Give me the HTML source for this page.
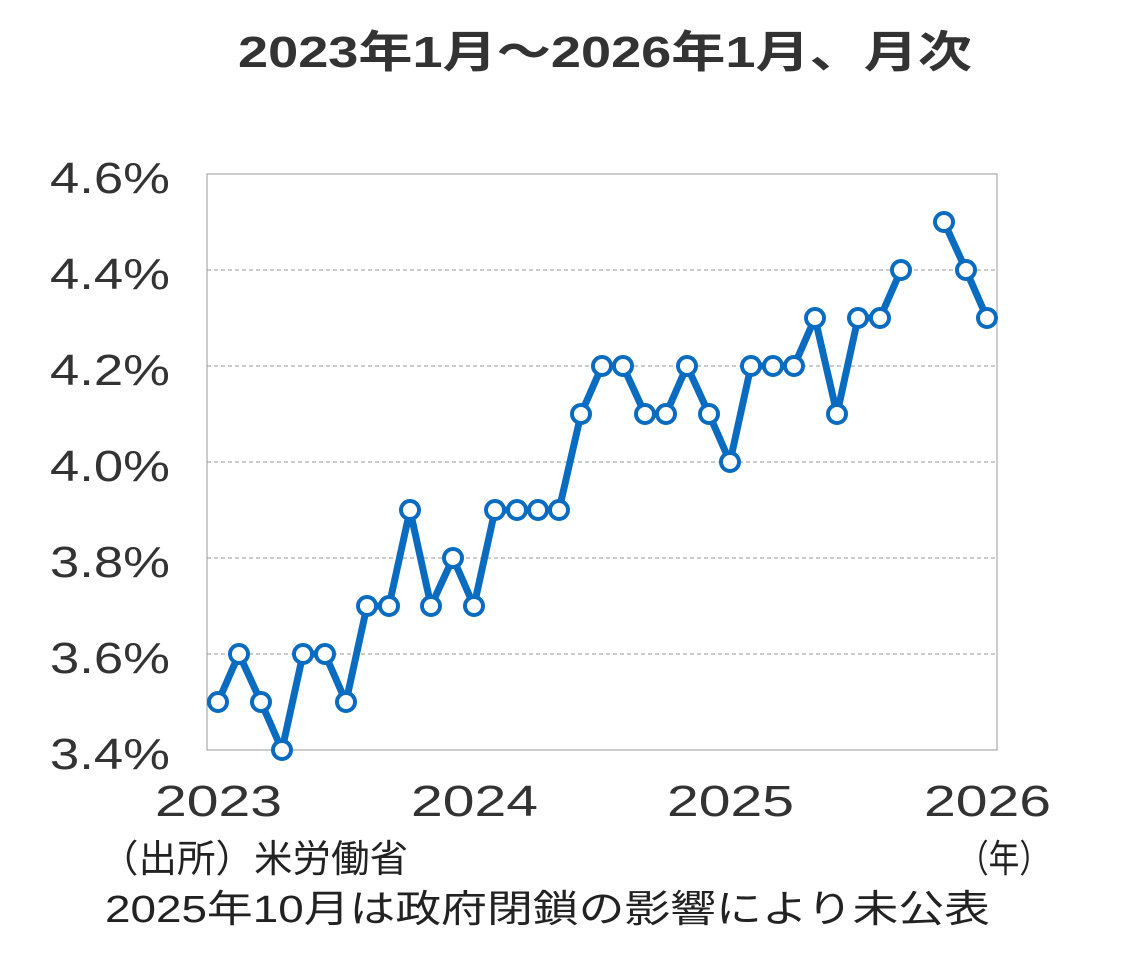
<!DOCTYPE html>
<html><head><meta charset="utf-8"><style>
html,body{margin:0;padding:0;background:#fff;}
svg{display:block;font-family:"Liberation Sans","Noto Sans CJK JP",sans-serif;}
</style></head><body>
<svg width="1142" height="966" viewBox="0 0 1142 966" xmlns="http://www.w3.org/2000/svg">
<text x="238" y="67" font-size="44" font-weight="bold" fill="#333" textLength="734" lengthAdjust="spacingAndGlyphs">2023年1月～2026年1月、月次</text>
<g stroke="#999" stroke-width="1" stroke-dasharray="4,3">
<line x1="207" y1="270" x2="997" y2="270"/><line x1="207" y1="366" x2="997" y2="366"/>
<line x1="207" y1="462" x2="997" y2="462"/><line x1="207" y1="558" x2="997" y2="558"/>
<line x1="207" y1="654" x2="997" y2="654"/>
</g>
<rect x="207" y="174" width="790" height="576" fill="none" stroke="#999" stroke-width="1"/>
<g font-size="44" fill="#333">
<text x="50" y="193" textLength="120" lengthAdjust="spacingAndGlyphs">4.6%</text>
<text x="50" y="289" textLength="120" lengthAdjust="spacingAndGlyphs">4.4%</text>
<text x="50" y="385" textLength="120" lengthAdjust="spacingAndGlyphs">4.2%</text>
<text x="50" y="481" textLength="120" lengthAdjust="spacingAndGlyphs">4.0%</text>
<text x="50" y="577" textLength="120" lengthAdjust="spacingAndGlyphs">3.8%</text>
<text x="50" y="673" textLength="120" lengthAdjust="spacingAndGlyphs">3.6%</text>
<text x="50" y="769" textLength="120" lengthAdjust="spacingAndGlyphs">3.4%</text>
</g>
<g font-size="44" fill="#333">
<text x="155" y="816" textLength="127" lengthAdjust="spacingAndGlyphs">2023</text>
<text x="411" y="816" textLength="127" lengthAdjust="spacingAndGlyphs">2024</text>
<text x="667" y="816" textLength="127" lengthAdjust="spacingAndGlyphs">2025</text>
<text x="924" y="816" textLength="127" lengthAdjust="spacingAndGlyphs">2026</text>
</g>
<text x="100" y="872" font-size="38" fill="#222" textLength="308" lengthAdjust="spacingAndGlyphs">（出所）米労働省</text>
<text x="958" y="872" font-size="38" fill="#222" textLength="92" lengthAdjust="spacingAndGlyphs">（年）</text>
<text x="105" y="922" font-size="38" fill="#222" textLength="885" lengthAdjust="spacingAndGlyphs">2025年10月は政府閉鎖の影響により未公表</text>
<g fill="none" stroke="#0a6cc0" stroke-width="7" stroke-linejoin="round">
<polyline points="218,702 239,654 261,702 282,750 303,654 325,654 346,702 367,606 389,606 410,510 431,606 453,558 474,606 495,510 517,510 538,510 559,510 581,414 602,366 623,366 645,414 666,414 687,366 709,414 730,462 751,366 773,366 794,366 815,318 837,414 858,318 880,318 901,270"/>
<polyline points="944,222 966,270 987,318"/>
</g>
<g fill="#fff" stroke="#0a6cc0" stroke-width="4">
<circle cx="218" cy="702" r="9"/><circle cx="239" cy="654" r="9"/><circle cx="261" cy="702" r="9"/><circle cx="282" cy="750" r="9"/>
<circle cx="303" cy="654" r="9"/><circle cx="325" cy="654" r="9"/><circle cx="346" cy="702" r="9"/><circle cx="367" cy="606" r="9"/>
<circle cx="389" cy="606" r="9"/><circle cx="410" cy="510" r="9"/><circle cx="431" cy="606" r="9"/><circle cx="453" cy="558" r="9"/>
<circle cx="474" cy="606" r="9"/><circle cx="495" cy="510" r="9"/><circle cx="517" cy="510" r="9"/><circle cx="538" cy="510" r="9"/>
<circle cx="559" cy="510" r="9"/><circle cx="581" cy="414" r="9"/><circle cx="602" cy="366" r="9"/><circle cx="623" cy="366" r="9"/>
<circle cx="645" cy="414" r="9"/><circle cx="666" cy="414" r="9"/><circle cx="687" cy="366" r="9"/><circle cx="709" cy="414" r="9"/>
<circle cx="730" cy="462" r="9"/><circle cx="751" cy="366" r="9"/><circle cx="773" cy="366" r="9"/><circle cx="794" cy="366" r="9"/>
<circle cx="815" cy="318" r="9"/><circle cx="837" cy="414" r="9"/><circle cx="858" cy="318" r="9"/><circle cx="880" cy="318" r="9"/>
<circle cx="901" cy="270" r="9"/><circle cx="944" cy="222" r="9"/><circle cx="966" cy="270" r="9"/><circle cx="987" cy="318" r="9"/>
</g>
</svg>
</body></html>
